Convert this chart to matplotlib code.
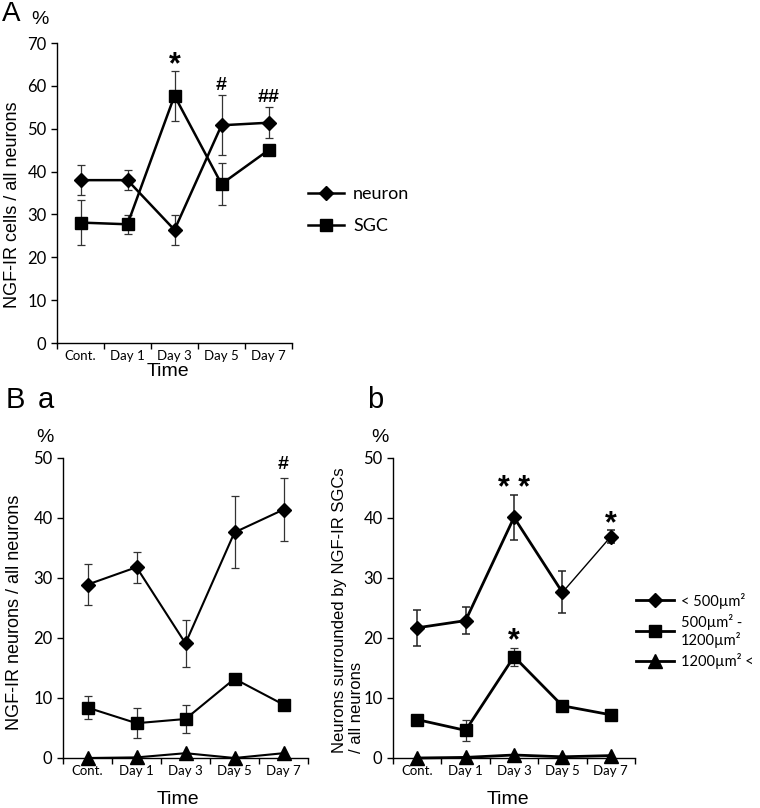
import numpy as np
import matplotlib
matplotlib.use("Agg")
import matplotlib.pyplot as plt
from matplotlib.lines import Line2D

# values
days = ["Cont.", "Day 1", "Day 3", "Day 5", "Day 7"]

a_neuron = [38.0, 38.0, 26.4, 50.8, 51.4]
a_neuron_err = [3.5, 2.4, 3.5, 7.0, 3.6]
a_sgc = [28.1, 27.7, 57.7, 37.1, 45.0]
a_sgc_err = [5.2, 2.2, 5.8, 4.8, 0.4]

ba_small = [28.9, 31.8, 19.1, 37.6, 41.4]
ba_small_err = [3.4, 2.6, 3.9, 6.0, 5.3]
ba_mid = [8.4, 5.8, 6.5, 13.2, 8.9]
ba_mid_err = [1.9, 2.5, 2.3, 0.4, 0.5]
ba_large = [0.0, 0.1, 0.8, 0.0, 0.8]

bb_small = [21.7, 22.9, 40.1, 27.6, 36.9]
bb_small_err = [3.0, 2.2, 3.8, 3.5, 1.1]
bb_mid = [6.4, 4.6, 16.9, 8.7, 7.2]
bb_mid_err = [0.3, 1.8, 1.5, 0.4, 0.4]
bb_large = [0.0, 0.1, 0.5, 0.2, 0.4]

size_labels = ["< 500µm²", "500µm² -\n1200µm²", "1200µm² <"]

W, H = 760, 808
LABEL_FONT = "Liberation Sans"
TICK_FONT = "Lato"


def px(x, y):
    return x / W, 1 - y / H


def frame(fig, left, right, top, bottom, ymax, ystep):
    ax = fig.add_axes([left / W, 1 - bottom / H, (right - left) / W, (bottom - top) / H])
    ax.set_xlim(0, 5)
    ax.set_ylim(0, ymax)
    ax.set_yticks(np.arange(0, ymax + 1, ystep))
    ax.set_xticks(np.arange(6))
    ax.set_xticklabels([])
    ax.set_xticks(np.arange(5) + 0.5, minor=True)
    ax.set_xticklabels(days, minor=True, fontfamily=TICK_FONT, fontsize=9.5)
    ax.tick_params(axis="x", which="major", direction="out", length=4, width=1)
    ax.tick_params(axis="x", which="minor", length=0, pad=5)
    ax.tick_params(axis="y", direction="out", length=4, width=1, labelsize=12)
    for lab in ax.get_yticklabels():
        lab.set_fontfamily(TICK_FONT)
    for s in ("top", "right"):
        ax.spines[s].set_visible(False)
    for s in ("left", "bottom"):
        ax.spines[s].set_linewidth(1.0)
    return ax


def series(ax, y, err, marker, ms, lw=1.8):
    x = np.arange(5) + 0.5
    if err is not None:
        ax.errorbar(x, y, yerr=err, fmt="none", ecolor="#333333", elinewidth=0.9,
                    capsize=3, capthick=0.9, zorder=2)
    ax.plot(x, y, color="black", lw=lw, marker=marker, ms=ms, zorder=3, clip_on=False)


def mark(ax, x, y, s, size):
    ax.text(x, y, s, ha="center", va="center", fontsize=size,
            fontfamily=LABEL_FONT, fontweight="bold")


fig = plt.figure(figsize=(W / 100, H / 100), dpi=100)

# ---- panel A
axA = frame(fig, 57, 292, 43, 343, 70, 10)
series(axA, a_neuron, a_neuron_err, "D", 7.5)
series(axA, a_sgc, a_sgc_err, "s", 8.5)
mark(axA, 2.5, 64.8, "*", 22)
mark(axA, 3.5, 60.2, "#", 14)
mark(axA, 4.5, 57.4, "##", 14)

hA = [Line2D([], [], color="black", lw=1.8, marker="D", ms=7.5),
      Line2D([], [], color="black", lw=1.8, marker="s", ms=8.5)]
fig.legend(hA, ["neuron", "SGC"], loc="center left", bbox_to_anchor=px(308, 210),
           frameon=False, handlelength=2.0, labelspacing=0.9, borderpad=0,
           borderaxespad=0, handletextpad=0.5, prop={"family": TICK_FONT, "size": 13})

fig.text(*px(11, 14), "A", fontsize=20, fontfamily=LABEL_FONT, ha="center", va="center")
fig.text(*px(40, 20), "%", fontsize=14, fontfamily=LABEL_FONT, ha="center", va="center")
fig.text(*px(13, 205), "NGF-IR cells / all neurons", rotation=90, fontsize=13,
         fontfamily=LABEL_FONT, ha="center", va="center")
fig.text(*px(168, 372), "Time", fontsize=14, fontfamily=LABEL_FONT, ha="center", va="center")

# ---- panel B a
axBa = frame(fig, 63, 308, 458, 758, 50, 10)
series(axBa, ba_small, ba_small_err, "D", 7, lw=1.5)
series(axBa, ba_mid, ba_mid_err, "s", 9, lw=1.5)
series(axBa, ba_large, None, "^", 10, lw=1.5)
mark(axBa, 4.5, 48.9, "#", 14)

fig.text(*px(15, 400), "B", fontsize=21, fontfamily=LABEL_FONT, ha="center", va="center")
fig.text(*px(46, 400), "a", fontsize=21, fontfamily=LABEL_FONT, ha="center", va="center")
fig.text(*px(45, 437), "%", fontsize=14, fontfamily=LABEL_FONT, ha="center", va="center")
fig.text(*px(15, 612), "NGF-IR neurons / all neurons", rotation=90, fontsize=13,
         fontfamily=LABEL_FONT, ha="center", va="center")
fig.text(*px(178, 800), "Time", fontsize=14, fontfamily=LABEL_FONT, ha="center", va="center")

# ---- panel B b
axBb = frame(fig, 393, 635, 458, 758, 50, 10)
x = np.arange(5) + 0.5
axBb.errorbar(x, bb_small, yerr=bb_small_err, fmt="none", ecolor="#222222",
              elinewidth=1.1, capsize=3, capthick=1.1, zorder=2)
axBb.plot(x[:4], bb_small[:4], color="black", lw=2, zorder=3)
axBb.plot(x[3:], bb_small[3:], color="black", lw=1, zorder=3)
axBb.plot(x, bb_small, ls="none", color="black", marker="D", ms=7, zorder=4)
series(axBb, bb_mid, bb_mid_err, "s", 9, lw=2)
series(axBb, bb_large, None, "^", 10, lw=2)
mark(axBb, 2.5, 44.8, "* *", 22)
mark(axBb, 4.5, 38.9, "*", 22)
mark(axBb, 2.5, 19.4, "*", 22)

hB = [Line2D([], [], color="black", lw=2, marker="D", ms=7.5),
      Line2D([], [], color="black", lw=2, marker="s", ms=9),
      Line2D([], [], color="black", lw=2, marker="^", ms=10)]
fig.legend(hB, size_labels, loc="center left", bbox_to_anchor=px(636, 631),
           frameon=False, handlelength=2.6, labelspacing=0.35, borderpad=0,
           borderaxespad=0, handletextpad=0.5, prop={"family": TICK_FONT, "size": 10.5})

fig.text(*px(375, 400), "b", fontsize=21, fontfamily=LABEL_FONT, ha="center", va="center")
fig.text(*px(380, 437), "%", fontsize=14, fontfamily=LABEL_FONT, ha="center", va="center")
fig.text(*px(348, 753), "Neurons surrounded by NGF-IR SGCs\n/ all neurons", rotation=90,
         fontsize=12, fontfamily=LABEL_FONT, ha="center", va="bottom", multialignment="left")
fig.text(*px(508, 800), "Time", fontsize=14, fontfamily=LABEL_FONT, ha="center", va="center")

fig.savefig("out.png", dpi=100)
